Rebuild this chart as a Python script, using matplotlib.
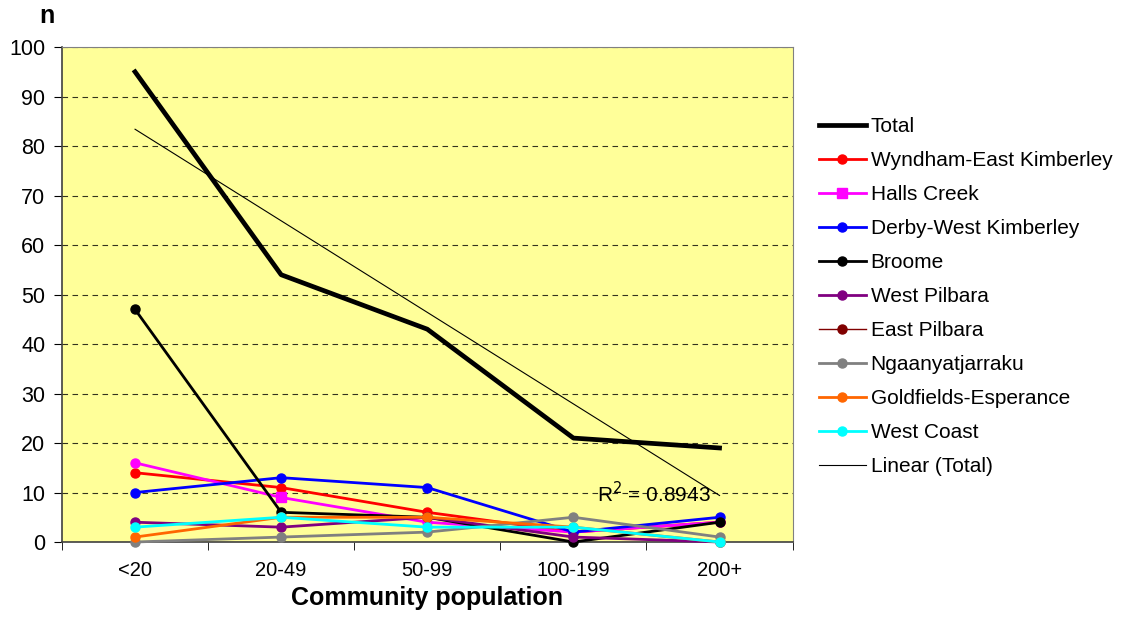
import numpy as np
import matplotlib
matplotlib.use("Agg")
import matplotlib.pyplot as plt
from matplotlib.ticker import FixedLocator, NullFormatter

plt.rcParams["font.family"] = ["Liberation Sans", "DejaVu Sans"]

nan = float("nan")

# ── Data ────────────────────────────────────────────────────────────────────
categories = ["<20", "20-49", "50-99", "100-199", "200+"]

total            = [95, 54, 43, 21, 19]
wyndham          = [14, 11, 6, 2, 4]
halls_creek      = [16, 9, 4, 2, 4]
derby            = [10, 13, 11, 2, 5]
broome           = [47, 6, 5, 0, 4]
west_pilbara     = [4, 3, 5, 1, 0]
east_pilbara     = [nan, nan, nan, nan, nan]   # not visible in the chart
ngaanyatjarraku  = [0, 1, 2, 5, 1]
goldfields       = [1, 5, 5, 3, 0]
west_coast       = [3, 5, 3, 3, 0]

series = [
    ("Wyndham-East Kimberley", wyndham, "#FF0000"),
    ("Halls Creek", halls_creek, "#FF00FF"),
    ("Derby-West Kimberley", derby, "#0000FF"),
    ("Broome", broome, "#000000"),
    ("West Pilbara", west_pilbara, "#800080"),
    ("East Pilbara", east_pilbara, "#800000"),
    ("Ngaanyatjarraku", ngaanyatjarraku, "#808080"),
    ("Goldfields-Esperance", goldfields, "#FF6600"),
    ("West Coast", west_coast, "#00FFFF"),
]

x = np.arange(1, len(categories) + 1)

# ── Figure ──────────────────────────────────────────────────────────────────
fig = plt.figure(figsize=(11.31, 6.21), dpi=100)
ax = fig.add_axes([0.0548, 0.1272, 0.646, 0.797])
ax.set_facecolor("#FFFF99")

ax.plot(x, total, color="black", lw=3.4, label="Total", zorder=3)

for name, vals, col in series:
    lw = 1.0 if name == "East Pilbara" else 2.0
    if name == "Halls Creek":
        ax.plot(x, vals, color=col, lw=lw, marker="s", ms=6.5,
                markevery=[1], label=name, zorder=4, clip_on=False)
        others = [i for i in range(len(x)) if i != 1]
        ax.plot(x[others], [vals[i] for i in others], ls="none",
                marker="o", ms=6.5, color=col, zorder=4, clip_on=False)
    else:
        ax.plot(x, vals, color=col, lw=lw, marker="o", ms=6.5,
                label=name, zorder=4, clip_on=False)

# linear trend of Total
coef = np.polyfit(x, total, 1)
fit = np.polyval(coef, x)
r2 = 1 - np.sum((np.array(total) - fit) ** 2) / np.sum((np.array(total) - np.mean(total)) ** 2)
ax.plot(x, fit, color="black", lw=0.8, label="Linear (Total)", zorder=5)
ax.text(4.16, 9.7, f"R$^2$ = {r2:.4f}", fontsize=15, va="center", zorder=6)

# axes
ax.set_xlim(0.5, 5.5)
ax.set_ylim(0, 100)
ax.set_yticks(range(0, 101, 10))
ax.yaxis.grid(True, color="black", ls=(0, (5, 4)), lw=0.8, alpha=0.8)
ax.set_axisbelow(True)
ax.set_xticks(x)
ax.set_xticklabels(categories)
ax.xaxis.set_minor_locator(FixedLocator(np.arange(0.5, 6.0, 1.0)))
ax.xaxis.set_minor_formatter(NullFormatter())
ax.tick_params(axis="x", which="major", length=0, pad=14, labelsize=14.5)
ax.tick_params(axis="x", which="minor", length=6, direction="out")
ax.tick_params(axis="y", length=6, direction="out", labelsize=15.5, pad=6)

for side in ["top", "right"]:
    ax.spines[side].set_color("#808080")
for side in ["left", "bottom"]:
    ax.spines[side].set_color("#404040")
    ax.spines[side].set_linewidth(1.2)

ax.set_xlabel("Community population", fontsize=18, fontweight="bold", labelpad=4)
fig.text(0.035, 0.993, "n", fontsize=18, fontweight="bold", va="top")

ax.legend(loc="upper left", bbox_to_anchor=(1.01, 0.896), frameon=False,
          fontsize=15, handlelength=2.25, labelspacing=0.72, handletextpad=0.25)

fig.savefig("out.png", dpi=100)
